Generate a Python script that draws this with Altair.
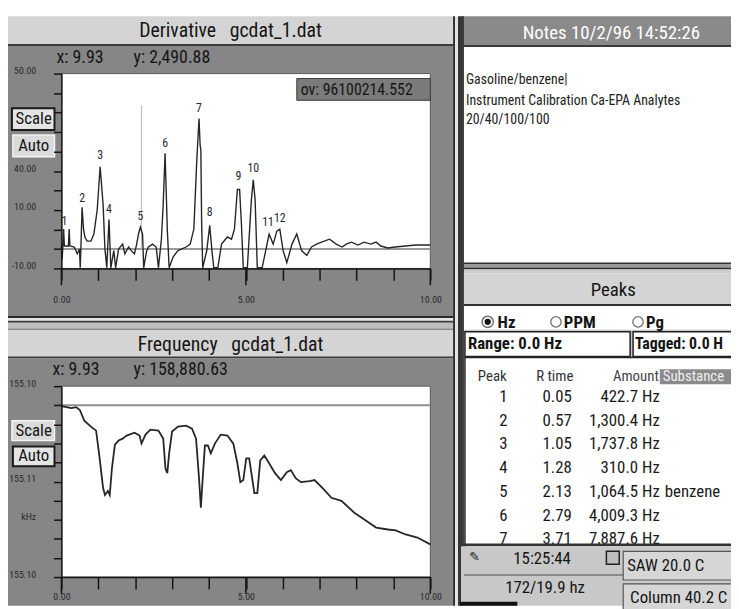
import altair as alt
import pandas as pd

W, H = 731, 601
FONT = "Liberation Sans Narrow, Arial Narrow, Roboto Condensed, DejaVu Sans Condensed, Liberation Sans, sans-serif"

# ---------------- data ----------------
deriv_t = [0.00, 0.02, 0.04, 0.06, 0.08, 0.19, 0.21, 0.23, 0.35, 0.43, 0.49, 0.51, 0.53, 0.56, 0.60, 0.64,
           0.70, 0.80, 0.88, 0.97, 1.05, 1.10, 1.13, 1.18, 1.23, 1.29, 1.34, 1.42, 1.47, 1.55, 1.66, 1.72,
           1.82, 1.90, 1.98, 2.04, 2.09, 2.14, 2.20, 2.23, 2.31, 2.36, 2.47, 2.57, 2.63, 2.71, 2.76, 2.81,
           2.84, 2.87, 2.92, 3.03, 3.16, 3.38, 3.49, 3.59, 3.67, 3.73, 3.76, 3.78, 3.80, 3.83, 3.94, 4.02,
           4.08, 4.13, 4.24, 4.34, 4.50, 4.61, 4.69, 4.77, 4.83, 4.88, 4.93, 5.04, 5.15, 5.20, 5.25, 5.31,
           5.44, 5.52, 5.63, 5.74, 5.84, 5.92, 6.01, 6.11, 6.25, 6.38, 6.51, 6.65, 6.78, 6.92, 7.05, 7.27,
           7.45, 7.61, 7.72, 7.86, 8.04, 8.20, 8.39, 8.53, 8.66, 8.85, 9.05, 9.33, 9.60, 10.00]
deriv_v = [-3.1, -7.0, -3.1, 2.1, -3.1, -3.1, 2.1, -3.1, -3.4, -5.5, -4.0, -9.8, -3.0, 8.8, 2.0, -0.5,
           -1.6, -1.6, 0.6, 8.0, 21.3, 14.0, 9.7, -4.0, -9.8, 5.1, -9.8, -4.5, -9.8, -4.0, -2.5, -5.5,
           -3.4, -4.6, -5.5, -2.5, 0.6, 2.7, 0.6, -9.8, -4.6, -3.4, -2.5, -3.4, -9.8, -1.0, 10.0, 25.5,
           14.0, 2.1, -9.8, -6.4, -4.5, -3.4, -2.5, 2.1, 23.4, 36.2, 28.0, 26.5, 5.0, -9.8, -4.5, 3.3,
           -4.5, -9.8, -9.8, -2.5, -0.3, -1.0, 2.1, 14.3, 14.3, 3.6, -9.8, -9.8, 11.2, 17.3, 11.2, -9.8,
           -9.8, -5.5, 0.6, -2.5, 1.5, 2.1, -4.5, -8.2, -2.5, 0.6, -4.5, -6.0, -3.4, -2.5, -1.9, -1.0,
           -2.5, -3.4, -2.5, -1.9, -2.8, -1.9, -2.5, -1.9, -3.1, -3.7, -3.4, -3.1, -2.8, -2.8]
peak_labels = ["1", "2", "3", "4", "5", "6", "7", "8", "9", "10", "11", "12"]
peak_label_t = [0.08, 0.56, 1.05, 1.29, 2.14, 2.81, 3.73, 4.02, 4.80, 5.20, 5.60, 5.92]
peak_label_v = [4.5, 11.8, 24.9, 8.2, 6.1, 28.6, 39.3, 7.3, 18.5, 21.0, 4.2, 5.4]
deriv_baseline = [-4.0]
cursor_t = [2.17]
cursor_v = [-4.0]
cursor_top = [40.3]

freq_t = [0.00, 0.27, 0.40, 0.50, 0.62, 0.80, 0.94, 1.02, 1.13, 1.18, 1.26, 1.31, 1.37, 1.45, 1.55, 1.66,
          1.77, 1.98, 2.12, 2.17, 2.28, 2.41, 2.63, 2.76, 2.82, 2.87, 2.92, 3.00, 3.16, 3.38, 3.54, 3.65,
          3.73, 3.78, 3.83, 3.89, 3.97, 4.05, 4.16, 4.32, 4.50, 4.66, 4.77, 4.85, 4.93, 5.01, 5.09, 5.17,
          5.23, 5.31, 5.39, 5.50, 5.63, 5.79, 5.95, 6.11, 6.22, 6.35, 6.49, 6.73, 6.86, 7.08, 7.32, 7.59,
          7.94, 8.26, 8.53, 8.85, 9.06, 9.33, 9.65, 10.00]
freq_v = [8.95, 8.85, 8.90, 8.75, 8.19, 7.88, 7.67, 6.48, 4.66, 4.30, 4.51, 4.30, 5.70, 6.94, 7.15, 7.25,
          7.41, 7.56, 7.41, 6.99, 7.46, 7.72, 7.67, 7.25, 5.70, 5.44, 6.48, 7.62, 7.88, 7.93, 7.77, 7.25,
          5.18, 3.63, 5.18, 6.89, 6.89, 6.48, 6.99, 7.46, 7.41, 6.99, 5.96, 4.97, 5.08, 6.22, 6.22, 5.18,
          4.40, 4.40, 6.11, 6.37, 5.96, 5.44, 5.08, 5.49, 5.60, 5.18, 4.97, 5.03, 5.08, 4.66, 4.15, 3.99,
          3.37, 2.95, 2.59, 2.49, 2.44, 2.23, 2.07, 1.71]
freq_ref = [9.0]

x_ticks = [0, 1, 2, 3, 4, 5, 6, 7, 8, 9, 10]
x_major_ticks = [0, 5, 10]
x_tick_labels = ["0.00", "", "", "", "", "5.00", "", "", "", "", "10.00"]
deriv_y_ticks = [-10, -4, 2, 8, 14, 20, 26, 32, 38, 44, 50]
deriv_y_tick_labels = ["-10.00", "", "", "10.00", "", "40.00", "", "", "", "", "50.00"]
freq_y_ticks = [0, 1, 2, 3, 4, 5, 6, 7, 8, 9, 10]
freq_y_tick_labels = ["155.10", "", "", "kHz", "", "155.11", "", "", "", "", "155.10"]

table_row = [1, 2, 3, 4, 5, 6, 7]
table_peak = ["1", "2", "3", "4", "5", "6", "7"]
table_rtime = ["0.05", "0.57", "1.05", "1.28", "2.13", "2.79", "3.71"]
table_amount = ["422.7 Hz", "1,300.4 Hz", "1,737.8 Hz", "310.0 Hz", "1,064.5 Hz", "4,009.3 Hz", "7,887.6 Hz"]
table_substance = ["", "", "", "", "benzene", "", ""]

notes_lines = ["Gasoline/benzene|", "Instrument Calibration Ca-EPA Analytes", "20/40/100/100"]

# ---------------- helpers ----------------
ONE = pd.DataFrame({"k": [0]})


def box(x, x2, y, y2, fill, stroke=None, sw=0):
    m = dict(fill=fill, strokeWidth=sw)
    if stroke:
        m["stroke"] = stroke
    return alt.Chart(ONE).mark_rect(**m).encode(
        x=alt.value(x), x2=alt.value(x2), y=alt.value(y), y2=alt.value(y2))


def txt(x, y, s, size=15, color="#151515", align="left", weight="normal", font=FONT):
    return alt.Chart(ONE).mark_text(text=s, font=font, fontSize=size, color=color, align=align,
                                    baseline="middle", fontWeight=weight).encode(
        x=alt.value(x), y=alt.value(y))


def lab_expr(vals, labs):
    e = "''"
    for v, l in zip(vals, labs):
        if l:
            e = f"datum.value == {v} ? '{l}' : ({e})"
    return e


AX = dict(title=None, grid=False, zindex=1, domainColor="#141414", domainWidth=1.5, tickColor="#141414",
          tickWidth=1.5, labelFont=FONT, labelFontSize=10, labelColor="#2a2a2a", labelFlush=False,
          labelOverlap=False)

GRAY = "#868686"
LIGHT = "#d4d4d4"
NB = "\u00a0"

layers = []
# ---- left window chrome ----
layers += [
    box(0, 450, 5, 34, LIGHT),
    box(0, 450, 33, 35, "#3c3c3c"),
    box(0, 450, 35, 309, GRAY),
    box(0, 450, 308, 310, "#2a2a2a"),
    box(0, 450, 310, 313, "#e6e6e6"),
    box(0, 450, 313, 315, "#3a3a3a"),
    box(0, 450, 315, 321, "#bdbdbd"),
    box(0, 450, 321, 322, "#444444"),
    box(0, 450, 322, 350, LIGHT),
    box(0, 450, 349, 351, "#3c3c3c"),
    box(0, 450, 351, 601, GRAY),
    box(450, 452, 5, 601, "#2e2e2e"),
    box(452, 455, 5, 601, "#e2e2e2"),
    box(455, 458, 5, 601, "#333333"),
    box(54, 427, 63, 260, "white", "#5a5a5a", 1),
    box(54, 427, 379, 572, "white", "#5a5a5a", 1),
]

# ---- derivative plot ----
dxs = alt.Scale(domain=[0, 10], range=[54, 427], nice=False, zero=False)
dys = alt.Scale(domain=[-10, 50], range=[260, 63], nice=False, zero=False)
DX = alt.X("t:Q", scale=dxs, axis=alt.Axis(orient="bottom", offset=260 - H, values=x_ticks,
                                          labelExpr=lab_expr(x_ticks, x_tick_labels), tickSize=12,
                                          labelPadding=14, **AX))
DY = alt.Y("v:Q", scale=dys, axis=alt.Axis(orient="left", offset=-54, values=deriv_y_ticks,
                                          labelExpr=lab_expr(deriv_y_ticks, deriv_y_tick_labels),
                                          tickSize=8, labelPadding=18, labelBaseline="alphabetic", **AX))

deriv_df = pd.DataFrame({"t": deriv_t, "v": deriv_v})
peaks_df = pd.DataFrame({"t": peak_label_t, "v": peak_label_v, "lab": peak_labels})
base_df = pd.DataFrame({"v": deriv_baseline})
cur_df = pd.DataFrame({"t": cursor_t, "v": cursor_v, "v2": cursor_top})
dmaj_df = pd.DataFrame({"t": x_major_ticks})

deriv = alt.layer(
    alt.Chart(base_df).mark_rule(color="#9a9a9a", strokeWidth=2).encode(
        y=DY, x=alt.value(54), x2=alt.value(427)),
    alt.Chart(cur_df).mark_rule(color="#b8b8b8", strokeWidth=1).encode(x=DX, y=DY, y2="v2:Q"),
    alt.Chart(deriv_df).mark_line(color="#262626", strokeWidth=1.4).encode(x=DX, y=DY),
    alt.Chart(peaks_df).mark_text(font=FONT, fontSize=12, color="#2a2a2a", baseline="middle").encode(
        x=DX, y=DY, text="lab:N"),
    alt.Chart(dmaj_df).mark_rule(color="#141414", strokeWidth=1.5).encode(
        x=DX, y=alt.value(260), y2=alt.value(277)),
)
layers.append(deriv)

# ---- frequency plot ----
fxs = alt.Scale(domain=[0, 10], range=[54, 427], nice=False, zero=False)
fys = alt.Scale(domain=[0, 10], range=[572, 379], nice=False, zero=False)
FX = alt.X("ft:Q", scale=fxs, axis=alt.Axis(orient="bottom", offset=572 - H, values=x_ticks,
                                           labelExpr=lab_expr(x_ticks, x_tick_labels), tickSize=12,
                                           labelPadding=3, **AX))
FY = alt.Y("fv:Q", scale=fys, axis=alt.Axis(orient="left", offset=-54, values=freq_y_ticks,
                                           labelExpr=lab_expr(freq_y_ticks, freq_y_tick_labels),
                                           tickSize=8, labelPadding=18, labelBaseline="alphabetic", **AX))
freq_df = pd.DataFrame({"ft": freq_t, "fv": freq_v})
fref_df = pd.DataFrame({"fv": freq_ref})
fmaj_df = pd.DataFrame({"ft": x_major_ticks})
freq = alt.layer(
    alt.Chart(fref_df).mark_rule(color="#8f8f8f", strokeWidth=2).encode(
        y=FY, x=alt.value(54), x2=alt.value(427)),
    alt.Chart(freq_df).mark_line(color="#262626", strokeWidth=1.8).encode(x=FX, y=FY),
    alt.Chart(fmaj_df).mark_rule(color="#141414", strokeWidth=1.5).encode(
        x=FX, y=alt.value(572), y2=alt.value(589)),
)
layers.append(freq)

# ---- left window texts ----
layers += [
    txt(225, 20, f"Derivative{NB}{NB}{NB}gcdat_1.dat", size=20, align="center"),
    txt(49, 47, "x: 9.93", size=18),
    txt(127, 47, "y: 2,490.88", size=18),
    box(292, 427, 68, 90, "#7b7b7b", "#3a3a3a", 1),
    txt(296, 80, "ov: 96100214.552", size=16, color="#141414"),
    box(4, 47, 98, 120, "#e4e4e4", "#1a1a1a", 2),
    txt(26, 109, "Scale", size=17, align="center"),
    box(5, 47, 125, 147, "#dadada", "#f4f4f4", 1.5),
    txt(26, 136, "Auto", size=17, align="center"),
    txt(225, 337, f"Frequency{NB}{NB}{NB}gcdat_1.dat", size=20, align="center"),
    txt(45, 363, "x: 9.93", size=18),
    txt(127, 363, "y: 158,880.63", size=18),
    box(4, 47, 414, 434, "#dadada", "#f4f4f4", 1.5),
    txt(26, 424, "Scale", size=17, align="center"),
    box(5, 47, 440, 460, "#e4e4e4", "#1a1a1a", 2),
    txt(26, 450, "Auto", size=17, align="center"),
]

# ---- notes window ----
layers += [
    box(458, 731, 5, 35, "#8a8a8a"),
    box(458, 731, 34, 36, "#3a3a3a"),
    box(458, 731, 36, 254, "white"),
    box(458, 731, 254, 256, "#333333"),
    box(458, 731, 256, 259, "#9a9a9a"),
    box(458, 731, 259, 261, "#333333"),
    box(458, 731, 261, 265, "#cfcfcf"),
    box(458, 461, 5, 601, "#3a3a3a"),
    txt(610, 22, "Notes 10/2/96 14:52:26", size=19, color="white", align="center"),
    txt(463, 70, notes_lines[0], size=14, color="#222"),
    txt(463, 91, notes_lines[1], size=14, color="#222"),
    txt(463, 110, notes_lines[2], size=14, color="#222"),
]

# ---- peaks window ----
layers += [
    box(461, 731, 265, 297, LIGHT),
    box(461, 731, 296, 298, "#333333"),
    box(461, 731, 298, 322, "white"),
    box(461, 731, 322, 350, "#c4c4c4"),
    box(462, 629, 324, 349, "white", "#222", 1.5),
    box(632, 735, 324, 349, "white", "#222", 1.5),
    box(462, 735, 350, 546, "white", "#222", 1.5),
    box(659, 731, 362, 377, "#8a8a8a"),
    txt(612, 282, "Peaks", size=19, align="center"),
    alt.Chart(ONE).mark_point(shape="circle", size=130, filled=True, fill="white", stroke="#333",
                              strokeWidth=1.5).encode(x=alt.value(485), y=alt.value(314)),
    alt.Chart(ONE).mark_circle(size=40, color="#111", opacity=1).encode(x=alt.value(485), y=alt.value(314)),
    alt.Chart(ONE).mark_point(shape="circle", size=110, filled=True, fill="white", stroke="#333",
                              strokeWidth=1.3).encode(x=alt.value(554), y=alt.value(314)),
    alt.Chart(ONE).mark_point(shape="circle", size=110, filled=True, fill="white", stroke="#333",
                              strokeWidth=1.3).encode(x=alt.value(637), y=alt.value(314)),
    txt(495, 315, "Hz", size=17, weight="bold"),
    txt(562, 315, "PPM", size=17, weight="bold"),
    txt(645, 315, "Pg", size=17, weight="bold"),
    txt(465, 336, "Range: 0.0 Hz", size=17, weight="bold"),
    txt(634, 336, "Tagged: 0.0 H", size=16, weight="bold"),
    txt(475, 369, "Peak", size=15, color="#333"),
    txt(534, 369, "R time", size=15, color="#333"),
    txt(658, 369, "Amount", size=15, color="#444", align="right"),
    txt(662, 369, "Substance", size=15, color="#f0f0f0"),
]

TY = alt.Y("row:Q", scale=alt.Scale(domain=[1, 7], range=[390, 534], nice=False, zero=False), axis=None)
table_df = pd.DataFrame({"row": table_row, "pk": table_peak, "rt": table_rtime, "amt": table_amount,
                         "sub": table_substance})
tbl = alt.Chart(table_df)
tstyle = dict(font=FONT, fontSize=17, color="#1a1a1a", baseline="middle")
table = alt.layer(
    tbl.mark_text(align="right", **tstyle).encode(x=alt.value(505), y=TY, text="pk:N"),
    tbl.mark_text(align="right", **tstyle).encode(x=alt.value(570), y=TY, text="rt:N"),
    tbl.mark_text(align="right", **tstyle).encode(x=alt.value(659), y=TY, text="amt:N"),
    tbl.mark_text(align="left", **tstyle).encode(x=alt.value(664), y=TY, text="sub:N"),
)
layers.append(table)

# ---- status bar ----
layers += [
    box(458, 731, 538, 541, "#333333"),
    box(458, 731, 541, 601, "#c8c8c8"),
    box(461, 622, 569, 571, "#8c8c8c"),
    box(622, 735, 546, 575, "#d6d6d6", "#555", 1.2),
    box(622, 735, 579, 610, "#d6d6d6", "#555", 1.2),
    box(457, 515, 597, 601, "#111111"),
    box(605, 618, 546, 559, "#bdbdbd", "#222", 1.5),
    txt(466, 552, "\u270e", size=13, color="#222", font="DejaVu Sans"),
    txt(540, 554, "15:25:44", size=17, align="center"),
    txt(543, 583, "172/19.9 hz", size=17, align="center"),
    txt(626, 561, "SAW 20.0 C", size=17),
    txt(629, 593, "Column 40.2 C", size=17),
]

chart = alt.layer(*layers).resolve_scale(x="independent", y="independent").properties(
    width=W, height=H, padding=0, background="white",
    autosize=alt.AutoSizeParams(type="none"),
).configure_view(strokeWidth=0)

chart.save("out.html", embed_options={"renderer": "svg", "actions": False})
